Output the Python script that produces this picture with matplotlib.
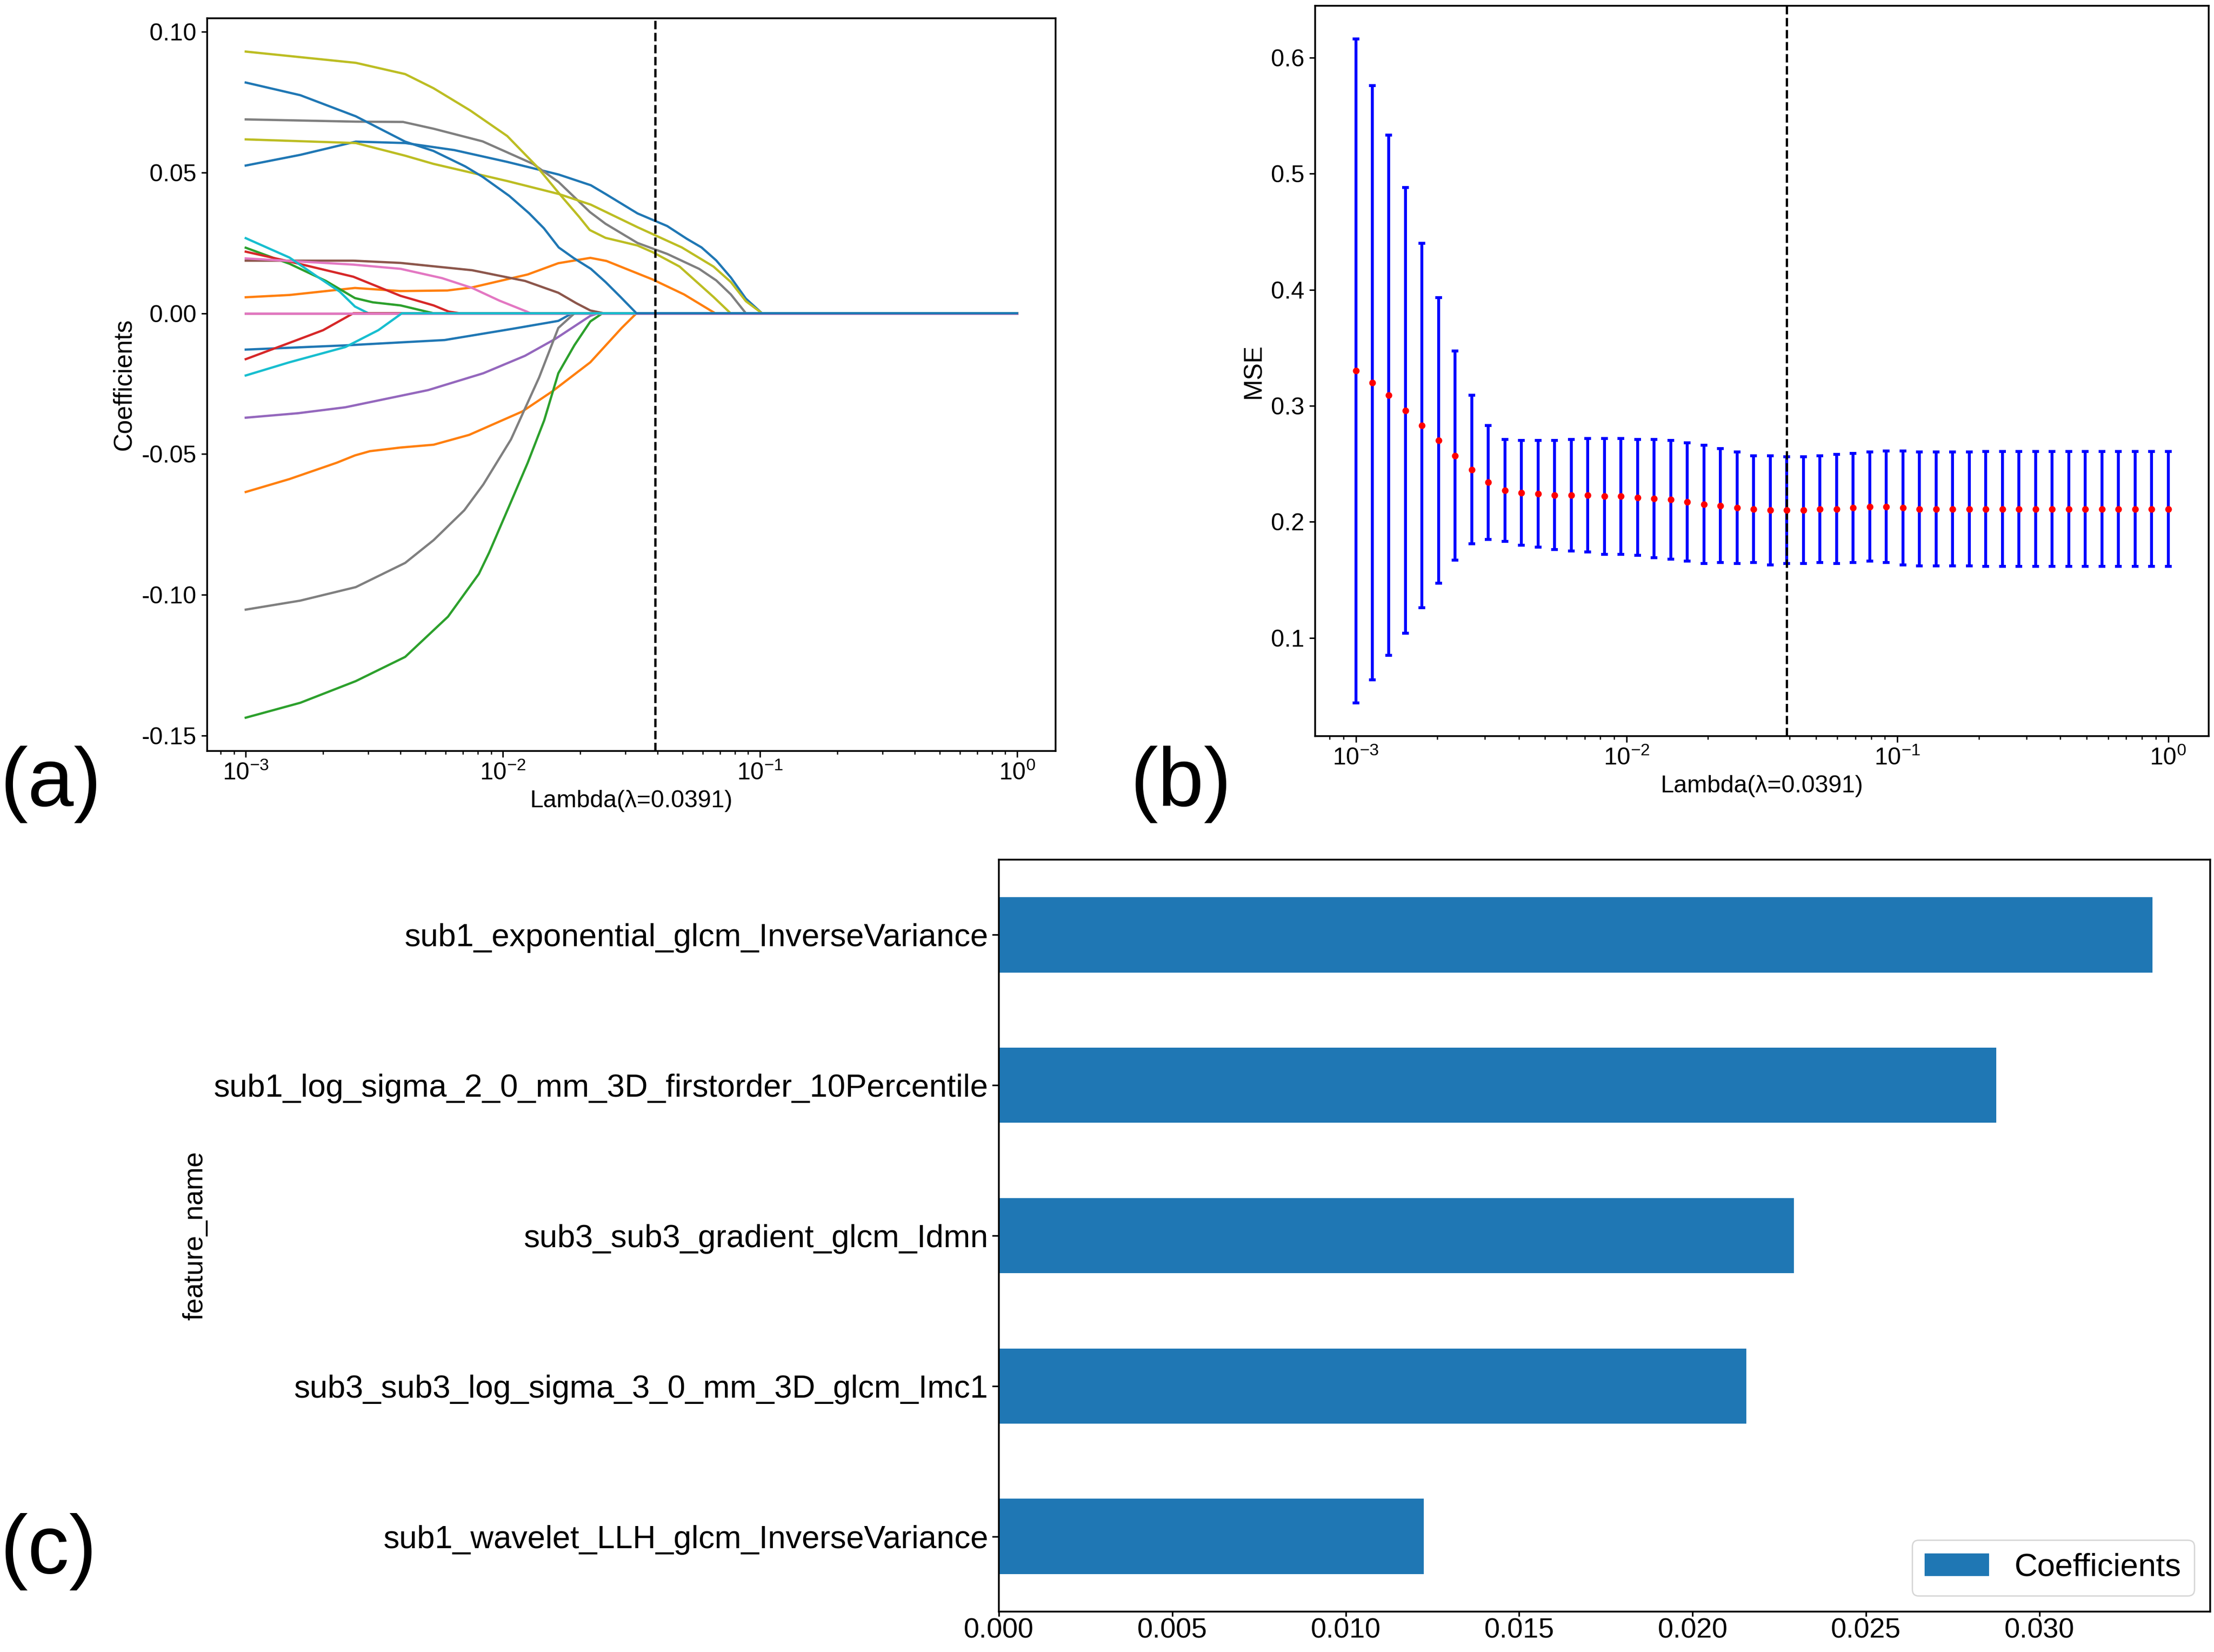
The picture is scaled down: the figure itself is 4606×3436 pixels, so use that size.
import numpy as np
import matplotlib.pyplot as plt

plt.rcParams['font.family'] = ['Liberation Sans', 'DejaVu Sans']

# lasso coefficient paths, (lambda, coefficient)
p00 = [(0.001, 0.0525), (0.00163, 0.0563), (0.00268, 0.061), (0.00417, 0.0605), (0.00647, 0.058), (0.0104, 0.0538),
       (0.0165, 0.0493), (0.022, 0.0455), (0.0251, 0.0424), (0.0334, 0.0355), (0.0436, 0.031), (0.0519, 0.0265),
       (0.0593, 0.0234), (0.0676, 0.0188), (0.0771, 0.0127), (0.0882, 0.0052), (0.1019, 0.0), (1.0, 0.0)]
p01 = [(0.001, 0.0057), (0.00148, 0.0065), (0.00266, 0.009), (0.004, 0.0079), (0.00608, 0.0081), (0.0076, 0.0092),
       (0.0125, 0.0138), (0.01644, 0.0178), (0.0219, 0.0197), (0.0253, 0.0186), (0.0383, 0.012), (0.0507, 0.0067),
       (0.067, 0.0), (1.0, 0.0)]
p02 = [(0.001, 0.0233), (0.00148, 0.0176), (0.00205, 0.0115), (0.00266, 0.0054), (0.00312, 0.0039), (0.004, 0.0028),
       (0.00538, 0.0), (1.0, 0.0)]
p03 = [(0.001, 0.0219), (0.00148, 0.0184), (0.00262, 0.013), (0.004, 0.0062), (0.00538, 0.0028), (0.00616, 0.0006),
       (0.0068, 0.0), (1.0, 0.0)]
p04 = [(0.001, -0.0371), (0.0016, -0.0355), (0.00244, -0.0334), (0.00512, -0.0273), (0.0084, -0.0213), (0.0122, -0.0151),
       (0.016, -0.0091), (0.0219, -0.0009), (0.0235, 0.0), (1.0, 0.0)]
p05 = [(0.001, 0.0187), (0.00262, 0.0187), (0.004, 0.0179), (0.0076, 0.0153), (0.0122, 0.0115), (0.01644, 0.0073),
       (0.0193, 0.0036), (0.0219, 0.001), (0.0247, 0.0), (1.0, 0.0)]
p06 = [(0.001, 0.0195), (0.00262, 0.0173), (0.004, 0.0158), (0.0058, 0.0125), (0.0076, 0.009), (0.0097, 0.0045),
       (0.0124, 0.0006), (0.0128, 0.0), (1.0, 0.0)]
p07 = [(0.001, 0.0689), (0.00268, 0.0681), (0.00409, 0.068), (0.00537, 0.0656), (0.00834, 0.0611), (0.0131, 0.0531),
       (0.0165, 0.0466), (0.0218, 0.036), (0.0251, 0.0318), (0.0334, 0.025), (0.0436, 0.0211), (0.058, 0.0158),
       (0.0676, 0.0117), (0.0771, 0.0067), (0.0882, 0.0), (1.0, 0.0)]
p08 = [(0.001, 0.093), (0.00268, 0.089), (0.00417, 0.085), (0.00537, 0.080), (0.00746, 0.0721), (0.0104, 0.063),
       (0.01352, 0.0523), (0.01687, 0.0417), (0.0198, 0.0343), (0.02178, 0.0296), (0.0251, 0.0268), (0.0334, 0.0241),
       (0.0383, 0.0217), (0.0487, 0.0166), (0.066, 0.0058), (0.0769, 0.0), (1.0, 0.0)]
p09 = [(0.001, 0.0267), (0.00148, 0.0198), (0.0019, 0.013), (0.00232, 0.0077), (0.00266, 0.0024), (0.003, 0.0), (1.0, 0.0)]
p10 = [(0.001, -0.0129), (0.00244, -0.0114), (0.00594, -0.0095), (0.01076, -0.0056), (0.01644, -0.0027), (0.0186, 0.0),
       (1.0, 0.0)]
p11 = [(0.001, -0.0635), (0.00148, -0.0589), (0.00226, -0.0531), (0.00266, -0.0505), (0.00304, -0.049), (0.004, -0.0477),
       (0.00538, -0.0467), (0.0074, -0.0432), (0.0119, -0.0349), (0.0156, -0.0277), (0.0219, -0.0174), (0.029, -0.0052),
       (0.0331, 0.0), (1.0, 0.0)]
p12 = [(0.001, -0.1437), (0.00163, -0.1384), (0.00268, -0.1307), (0.00417, -0.1221), (0.00612, -0.1078), (0.00807, -0.0926),
       (0.00885, -0.085), (0.01076, -0.067), (0.0125, -0.0531), (0.01449, -0.038), (0.01644, -0.0213), (0.019, -0.0113),
       (0.0219, -0.0029), (0.0244, 0.0), (1.0, 0.0)]
p13 = [(0.001, -0.0163), (0.00148, -0.0105), (0.002, -0.006), (0.00262, 0.0), (1.0, 0.0)]
p14 = [(0.001, 0.0), (1.0, 0.0)]
p15 = [(0.001, 0.0), (1.0, 0.0)]
p16 = [(0.001, 0.0), (1.0, 0.0)]
p17 = [(0.001, -0.1053), (0.00163, -0.1021), (0.00268, -0.0973), (0.00417, -0.0887), (0.00538, -0.0806), (0.00708, -0.070),
       (0.0084, -0.0608), (0.01076, -0.0448), (0.01384, -0.0228), (0.01644, -0.0052), (0.019, 0.0), (1.0, 0.0)]
p18 = [(0.001, 0.0618), (0.00268, 0.0605), (0.00417, 0.056), (0.00537, 0.0531), (0.0104, 0.047), (0.0165, 0.0424),
       (0.022, 0.0386), (0.0334, 0.0306), (0.0497, 0.0234), (0.066, 0.0166), (0.0771, 0.0111), (0.0882, 0.0043),
       (0.1019, 0.0), (1.0, 0.0)]
p19 = [(0.001, -0.0221), (0.00148, -0.0174), (0.00244, -0.012), (0.00328, -0.006), (0.00405, 0.0), (1.0, 0.0)]
p20 = [(0.001, 0.082), (0.00163, 0.0775), (0.00268, 0.070), (0.00417, 0.061), (0.00537, 0.0577), (0.00714, 0.0522),
       (0.00834, 0.0485), (0.0106, 0.0417), (0.01267, 0.0355), (0.01445, 0.0302), (0.0165, 0.0234), (0.01888, 0.0196),
       (0.022, 0.0158), (0.0251, 0.0111), (0.0287, 0.0058), (0.0331, 0.0), (1.0, 0.0)]
paths = [p00, p01, p02, p03, p04, p05, p06, p07, p08, p09, p10,
         p11, p12, p13, p14, p15, p16, p17, p18, p19, p20]

best_lambda = 0.0391

# cross-validation MSE, panel (b)
alphas = np.logspace(-3, 0, 50)
mse_mean = [0.330, 0.320, 0.309, 0.296, 0.283, 0.270, 0.257, 0.245, 0.234, 0.227,
            0.225, 0.224, 0.223, 0.223, 0.223, 0.222, 0.222, 0.221, 0.220, 0.219,
            0.217, 0.215, 0.214, 0.212, 0.211, 0.210, 0.210, 0.210, 0.211, 0.211,
            0.212, 0.213, 0.213, 0.212, 0.211, 0.211, 0.211, 0.211, 0.211, 0.211,
            0.211, 0.211, 0.211, 0.211, 0.211, 0.211, 0.211, 0.211, 0.211, 0.211]
mse_std = [0.286, 0.256, 0.224, 0.192, 0.157, 0.123, 0.090, 0.064, 0.049, 0.044,
           0.045, 0.046, 0.047, 0.048, 0.049, 0.050, 0.050, 0.050, 0.051, 0.051,
           0.051, 0.051, 0.049, 0.048, 0.046, 0.047, 0.046, 0.046, 0.046, 0.047,
           0.047, 0.047, 0.048, 0.049, 0.049, 0.049, 0.049, 0.049, 0.0495, 0.0495,
           0.0495, 0.0495, 0.0495, 0.0495, 0.0495, 0.0495, 0.0495, 0.0495, 0.0495, 0.0495]

# selected features, panel (c)
feature_name = ['sub1_wavelet_LLH_glcm_InverseVariance',
                'sub3_sub3_log_sigma_3_0_mm_3D_glcm_Imc1',
                'sub3_sub3_gradient_glcm_Idmn',
                'sub1_log_sigma_2_0_mm_3D_firstorder_10Percentile',
                'sub1_exponential_glcm_InverseVariance']
coefficients = [0.01225, 0.02155, 0.02292, 0.02875, 0.03326]

W, H = 4606, 3436
fig = plt.figure(figsize=(W/200, H/200), dpi=200)

fs_ab = 18
# (a) coefficient paths
ax1 = fig.add_axes([431/W, 1-1562/H, (2196-431)/W, (1562-38)/H])
for p in paths:
    lam, coef = zip(*p)
    ax1.plot(lam, coef, lw=1.7)
ax1.axvline(best_lambda, color='k', ls='--', lw=1.7)
ax1.set_xscale('log')
ax1.set_yticks([0.10, 0.05, 0.0, -0.05, -0.10, -0.15])
ax1.set_yticklabels(['0.10', '0.05', '0.00', '-0.05', '-0.10', '-0.15'])
ax1.set_xlabel('Lambda(\u03bb=0.0391)', fontsize=fs_ab)
ax1.set_ylabel('Coefficients', fontsize=fs_ab + 1)
ax1.tick_params(labelsize=fs_ab, length=4.5, width=1.1)
ax1.tick_params(which='minor', length=2.5, width=0.9)

# (b) MSE with error bars
ax2 = fig.add_axes([2736/W, 1-1531/H, (4595-2736)/W, (1531-12)/H])
ax2.errorbar(alphas, mse_mean, yerr=mse_std, fmt='o', ms=4, mfc='r', mec='r',
             ecolor='b', elinewidth=2.2, capsize=2.5, capthick=2.2)
ax2.axvline(best_lambda, color='k', ls='--', lw=1.7)
ax2.set_xscale('log')
ax2.set_yticks([0.1, 0.2, 0.3, 0.4, 0.5, 0.6])
ax2.set_xlabel('Lambda(\u03bb=0.0391)', fontsize=fs_ab)
ax2.set_ylabel('MSE', fontsize=fs_ab + 1)
ax2.tick_params(labelsize=fs_ab, length=4.5, width=1.1)
ax2.tick_params(which='minor', length=2.5, width=0.9)

# (c) selected feature coefficients
ax3 = fig.add_axes([2078/W, 1-3352/H, (4598-2078)/W, (3352-1788)/H])
ax3.barh(range(len(feature_name)), coefficients, height=0.5, color='#1f77b4', label='Coefficients')
ax3.set_yticks(range(len(feature_name)))
ax3.set_yticklabels(feature_name)
ax3.set_ylim(-0.5, len(feature_name)-0.5)
ax3.set_xlim(0, max(coefficients)*1.05)
ax3.set_xticks([0.000, 0.005, 0.010, 0.015, 0.020, 0.025, 0.030])
ax3.set_xticklabels(['0.000', '0.005', '0.010', '0.015', '0.020', '0.025', '0.030'])
ax3.set_ylabel('feature_name', fontsize=20.5)
ax3.tick_params(axis='y', labelsize=24, length=5, width=1.2, pad=3)
ax3.tick_params(axis='x', labelsize=21, length=3.5, width=1.2, pad=1)
ax3.legend(loc='lower right', fontsize=24)

for ax in (ax1, ax2, ax3):
    for s in ax.spines.values():
        s.set_linewidth(1.3)

fig.text(0.0, 1-1632/H, '(a)', fontsize=62, ha='left', va='center')
fig.text(2351/W, 1-1632/H, '(b)', fontsize=62, ha='left', va='center')
fig.text(0.0, 1-3228/H, '(c)', fontsize=62, ha='left', va='center')

fig.savefig('out.png', dpi=200)
